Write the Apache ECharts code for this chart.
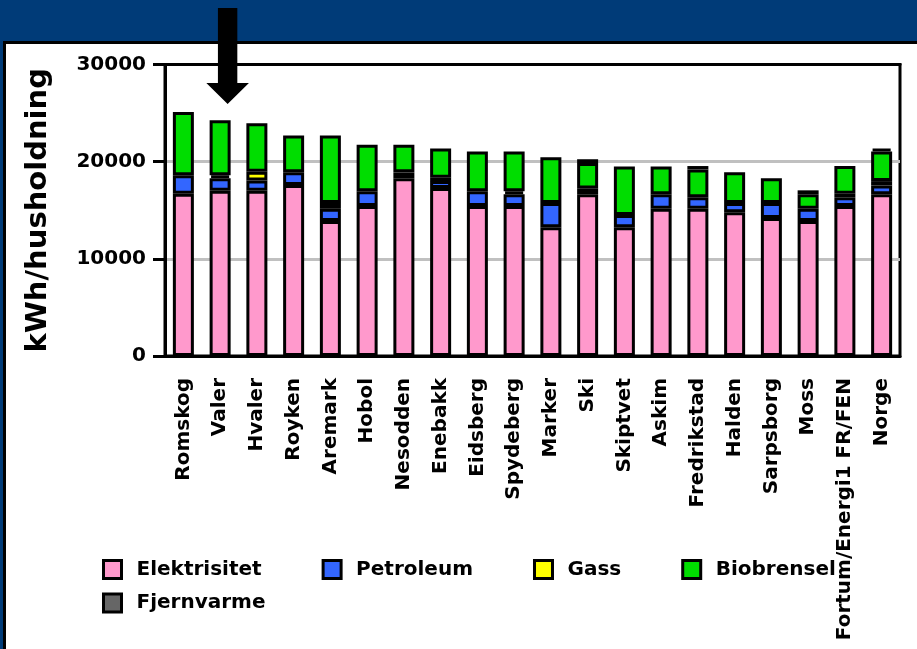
<!DOCTYPE html>
<html>
<head>
<meta charset="utf-8">
<script src="https://cdn.jsdelivr.net/npm/echarts@6/dist/echarts.min.js"></script>
<style>
  html, body { margin:0; padding:0; width:917px; height:649px; overflow:hidden; background:#003B78; }
  #panel { position:absolute; left:3px; top:41px; width:1000px; height:1000px; background:#fff;
           border-top:3px solid #000; border-left:3px solid #000; }
  #chart { position:absolute; left:0; top:0; width:917px; height:649px; }
</style>
</head>
<body>
<div id="panel"></div>
<div id="chart"></div>
<script>
const categories = ['Romskog','Valer','Hvaler','Royken','Aremark','Hobol','Nesodden','Enebakk','Eidsberg','Spydeberg',
  'Marker','Ski','Skiptvet','Askim','Fredrikstad','Halden','Sarpsborg','Moss','Fortum/Energi1 FR/FEN','Norge'];
const elektrisitet = [16700,17000,17000,17600,13900,15450,18300,17300,15450,15450,13250,16650,13250,15150,15150,14800,14200,13900,15450,16650];
const petroleum    = [1900,1300,1050,1300,1250,1500,600,700,1500,1200,2500,600,1250,1500,1200,950,1550,1250,900,900];
const gass         = [0,300,900,0,600,0,0,350,0,300,0,0,0,0,0,0,0,0,350,450];
const biobrensel   = [6500,5650,5000,3800,6950,4800,2850,3000,4100,4100,4700,2600,5000,2850,2850,3150,2550,1500,2850,3050];
const fjernvarme   = [0,0,0,0,0,0,0,0,0,0,0,400,0,0,350,0,0,400,0,300];
const yTicks = [0,10000,20000,30000];
const yAxisName = 'kWh/husholdning';

const FONT = 'DejaVu Sans';
const chart = echarts.init(document.getElementById('chart'), null, {renderer:'canvas'});
function mk(name, data, color){
  return {name, type:'bar', stack:'tot', data:data.map(v => v === 0 ? '-' : v), barWidth:21,
          itemStyle:{color, borderColor:'#000', borderWidth:3}, emphasis:{disabled:true}};
}
const legendCommon = {orient:'horizontal', left:102, padding:0, itemWidth:18, itemHeight:18, itemGap:60,
  icon:'rect', itemStyle:{borderColor:'#000', borderWidth:3},
  textStyle:{fontFamily:FONT, fontSize:20, fontWeight:'bold', color:'#000', lineHeight:22, padding:[0,0,0,10]}};
chart.setOption({
  animation:false,
  backgroundColor:'transparent',
  textStyle:{fontFamily:FONT},
  grid:{left:165, right:17, top:64.5, bottom:293, show:true, borderColor:'#000', borderWidth:3, backgroundColor:'#fff'},
  legend:[
    Object.assign({}, legendCommon, {top:558.5, data:['Elektrisitet','Petroleum','Gass','Biobrensel']}),
    Object.assign({}, legendCommon, {top:592, data:['Fjernvarme']})
  ],
  xAxis:[{type:'category', data:categories,
    axisLine:{lineStyle:{color:'#000', width:3}},
    axisTick:{alignWithLabel:true, length:12, lineStyle:{color:'#000', width:3}},
    axisLabel:{interval:0, rotate:90, margin:22, fontFamily:FONT, fontSize:20, fontWeight:'bold', color:'#000'}},
    {type:'category', data:categories, position:'top',
    axisLine:{show:true, lineStyle:{color:'#000', width:3}}, axisTick:{show:false}, axisLabel:{show:false}, splitLine:{show:false}}],
  yAxis:{type:'value', min:yTicks[0], max:yTicks[yTicks.length-1], interval:10000,
    name:yAxisName, nameLocation:'middle', nameRotate:90, nameGap:112,
    nameTextStyle:{fontFamily:FONT, fontSize:29, fontWeight:'bold', color:'#000'},
    axisLine:{show:true, lineStyle:{color:'#000', width:3}},
    axisTick:{show:true, length:12, lineStyle:{color:'#000', width:3}},
    axisLabel:{margin:19, fontFamily:FONT, fontSize:20, fontWeight:'bold', color:'#000', formatter:v=>String(v)},
    splitLine:{show:true, lineStyle:{color:'#C0C0C0', width:3}}},
  series:[
    mk('Elektrisitet', elektrisitet, '#FF99CC'),
    mk('Petroleum', petroleum, '#3366FF'),
    mk('Gass', gass, '#FFFF00'),
    mk('Biobrensel', biobrensel, '#00DD00'),
    mk('Fjernvarme', fjernvarme, '#666666')
  ]
});
// annotation arrow pointing at Valer
const ax = chart.convertToPixel({xAxisIndex:0}, categories[1]) + 7.5;
chart.setOption({graphic:[{type:'polygon', z:100,
  shape:{points:[[ax-9.7,8],[ax+9.7,8],[ax+9.7,83],[ax+21.3,83],[ax,104],[ax-21.3,83],[ax-9.7,83]]},
  style:{fill:'#000'}}]});
</script>
</body>
</html>
